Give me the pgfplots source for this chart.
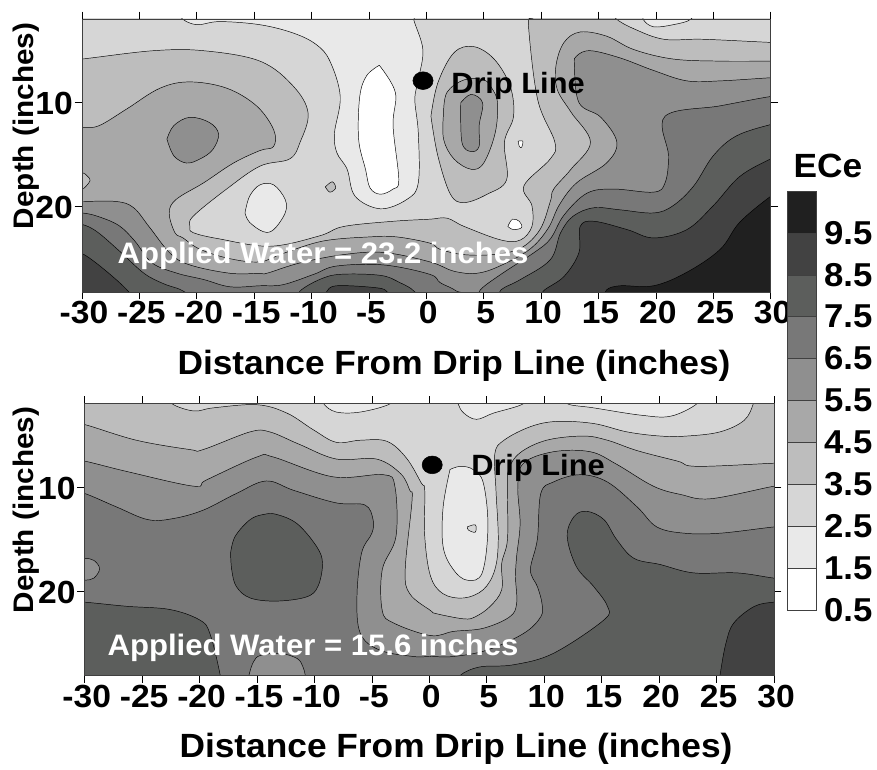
\documentclass[border=0pt]{standalone}
\usepackage{fontspec}
\setmainfont{Liberation Sans}[FakeStretch=1.05]
\usepackage{pgfplots}
\pgfplotsset{compat=1.18}
\definecolor{c1}{HTML}{FFFFFF}
\definecolor{c2}{HTML}{E9E9E9}
\definecolor{c3}{HTML}{D6D6D6}
\definecolor{c4}{HTML}{BDBDBD}
\definecolor{c5}{HTML}{A8A8A8}
\definecolor{c6}{HTML}{8F8F8F}
\definecolor{c7}{HTML}{787878}
\definecolor{c8}{HTML}{5C5E5C}
\definecolor{c9}{HTML}{424242}
\definecolor{c10}{HTML}{202020}
\newcommand{\region}[2]{\addplot[fill=#1,draw=black,line width=0.35pt,smooth,tension=0.6,mark=none] coordinates {#2};}
\newcommand{\fs}{\fontsize{24}{26}\selectfont\bfseries}
\pgfplotsset{contourpanel/.style={
  scale only axis, axis on top, y dir=reverse,
  xmin=-30,xmax=30,
  xtick={-30,-25,...,30},
  xticklabels={-30,-25,-20,-15,-10,-5,0,5,10,15,20,25,30},
  ytick={10,20}, yticklabels={10,20},
  tick align=outside, major tick length=5.5pt,
  tick style={black,line width=0.5pt},
  axis line style={draw=black!75,line width=0.7pt},
  xticklabel pos=bottom, yticklabel pos=left,
  tick label style={font=\fs},
  xticklabel style={text height=17.3pt,text depth=0pt,inner ysep=0pt,yshift=-0.9pt,xshift=1.5pt},
  yticklabel style={inner xsep=0pt,xshift=-1.2pt,yshift=-0.6pt},
}}
\begin{document}
\begin{tikzpicture}
\path (0,0) rectangle (657.75pt,570.75pt);
% ---------- upper panel
\begin{axis}[contourpanel,at={(61.5pt,351.75pt)},anchor=south west,width=516.5pt,height=204.75pt,ymin=1.95,ymax=28.2]
\addplot[fill=c4,draw=none] coordinates {(-31,1) (31,1) (31,29) (-31,29)} --cycle;
% 4.5 level
\region{c5}{(-31,12.4)(-30,12.4)(-28.5,12.2)(-26.1,10.6)(-23.2,8.6)(-20.6,8.0)(-17.4,8.6)(-14.8,10.3)(-13.3,12.6)(-13.3,14.2)(-14.5,14.6)(-16.8,15.8)(-19.4,17.7)(-21.8,19.3)(-22.4,20.6)(-21.9,22.5)(-21.2,23.0)(-19.7,24.1)(-17.1,25.0)(-14.5,25.3)(-12.5,24.5)(-9,23.3)(-4.9,22.9)(-2.6,22.9)(0.3,23.5)(1.2,24.1)(3.2,24.6)(5.8,24.6)(8.2,24.0)(9.9,22.2)(10.8,19.5)(11.1,18.3)(12.6,16.4)(14.3,13.8)(12.6,10.9)(11.4,8.7)(11.3,6.4)(12,4.2)(13.4,3.2)(15.7,3.6)(18.1,4.9)(21.5,5.8)(25.6,6.0)(30,6)(31,6)(31,29)(-31,29)(-31,12.4)}
% 2.5-3.5 level
\region{c3}{(-31,5.8)(-30,5.8)(-23.8,5.0)(-19.4,5.0)(-14.5,6.0)(-11.6,8.4)(-10.3,11.0)(-11,13.8)(-11.9,15.4)(-14.5,16.1)(-17.4,18.3)(-20.3,20.9)(-20.6,21.9)(-20.3,22.5)(-18,23.1)(-13.6,23.8)(-9.3,22.8)(-7.2,21.9)(-2.9,21.4)(0.3,21.2)(1.8,21.1)(3.3,21.9)(6.5,23.2)(8.2,23.2)(9.2,21.9)(9.2,19.9)(8.5,18)(10.8,15.4)(11.2,13.8)(9.7,9.7)(8.9,2.6)(9.2,1.9)(9.2,1)(-31,1)(-31,5.8)}
\region{c3}{(16.2,1)(16.5,1.9)(18.1,2.9)(20.7,3.9)(24.1,3.9)(30,4.2)(31,4.2)(31,1)(16.2,1)}
\region{c2}{(18.8,1)(18.9,2)(19.8,2.7)(21.5,2.5)(23,2)(23.2,1)(18.8,1)}
% 5.5 level
\region{c6}{(-31,19.5)(-30,19.5)(-27,19.5)(-25.5,20.1)(-24.1,22)(-22.3,24.5)(-20.6,25.6)(-17.1,26.4)(-14.5,26.4)(-13.9,26.4)(-11,25.4)(-7.2,24.6)(-3.7,24.4)(0.3,25.3)(2.4,26.2)(4.4,26.4)(6.4,25.7)(9,24.1)(10.6,22.1)(11.6,19.8)(13.1,17.7)(15.7,15.8)(16.6,13.8)(15.2,11.4)(13.3,10)(12.9,6.4)(13.1,5.5)(14.3,5)(16.9,5.7)(19.8,6.9)(22.7,7.9)(25.6,7.9)(30,7.6)(31,7.6)(31,29)(-31,29)(-31,19.5)}
% 6.5 level
\region{c7}{(-31,20.6)(-30,20.6)(-28.7,20.9)(-26.8,21.8)(-25.4,23.3)(-23.9,25.4)(-21.7,26.4)(-19.4,27)(-17.1,27.7)(-14.5,27.6)(-12.5,27.5)(-9.8,26.5)(-7.8,25.7)(-3.7,25.6)(0.3,26.5)(1.2,27.3)(2.6,28.1)(3,29)(-31,29)(-31,20.6)}
\region{c7}{(4.5,29)(4.7,28)(6.5,26.5)(9.4,24.4)(10.8,23.1)(12,20.8)(14,18.7)(16.3,18.3)(19.8,18.6)(20.8,17.7)(21.1,15.1)(20.8,11.3)(25.6,10.3)(30,9.4)(31,9.4)(31,29)(4.5,29)}
% 7.5 level
\region{c8}{(-31,21.7)(-30,21.7)(-28.7,22.4)(-26.7,24.3)(-24.6,26.4)(-22.9,27.4)(-21.2,28.1)(-21,29)(-31,29)(-31,21.7)}
\region{c8}{(-11.2,29)(-11,28.1)(-9.3,27)(-7.5,26.5)(-4,26.6)(-2.3,27.3)(-1.1,28.1)(-1,29)(-11.2,29)}
\region{c8}{(6.3,29)(6.5,28)(8.2,27)(10.8,25.1)(11.7,22.5)(12.8,20.9)(14.6,20.1)(16.9,20.3)(19.8,20.6)(21.5,19.9)(23.3,18)(25,15.1)(27,13.2)(30,12.1)(31,12)(31,29)(6.3,29)}
% 8.5 level
\region{c9}{(-31,24.5)(-30,24.5)(-28.1,26)(-26,28.1)(-25.8,29)(-31,29)(-31,24.5)}
\region{c9}{(-8.8,29)(-8.7,28.2)(-7.8,27.6)(-4.3,27.8)(-3.4,28.2)(-3.3,29)(-8.8,29)}
\region{c9}{(10,29)(10.2,28.1)(12,26.7)(13.3,24.4)(13.4,21.9)(14.6,21.4)(17.5,22.2)(19.8,23)(22.7,22.2)(25,19.9)(27.3,17.1)(30,15.4)(31,15)(31,29)(10,29)}
% 9.5 level
\region{c10}{(15.5,29)(15.7,28)(16.9,27.6)(19.8,27.6)(22.7,26.3)(25.6,24.1)(27.3,21.5)(30,19)(31,18.5)(31,29)(15.5,29)}
% low salinity zones
\region{c2}{(-21.5,1)(-21.3,1.9)(-20,2.5)(-18,2.2)(-14.5,2.5)(-11.6,3.3)(-9.6,4.4)(-8.4,6)(-7.5,9.4)(-8,12.9)(-7.8,14.8)(-6.9,16.4)(-6.2,19)(-4,20.2)(-1.7,19.3)(-0.7,17.7)(-0.7,12.9)(-1,9.7)(-0.7,7.8)(-0.3,4.9)(-1.1,2)(-1.1,1)(-21.5,1)}
\region{c1}{(-4.1,6.4)(-2.7,9)(-2.9,12.2)(-2.4,17.4)(-2.9,18.3)(-4,18.8)(-4.9,18.2)(-5.3,16.4)(-5.9,13.5)(-5.8,9.4)(-5.2,7.4)(-4.1,6.4)}
\region{c2}{(-15.8,20.6)(-15.4,19)(-14.5,17.9)(-13.3,17.9)(-12.3,19.3)(-12.3,20.6)(-13.3,22.2)(-14.2,22.4)(-15.4,21.5)(-15.8,20.6)}
\region{c4}{(-8.8,18.1)(-8.2,17.6)(-7.9,18.2)(-8.4,18.6)(-8.8,18.1)}
\region{c4}{(-31,16.7)(-30,16.7)(-29.5,17.1)(-29.3,17.5)(-29.8,18.2)(-30,18.2)(-31,18.2)(-31,16.7)}
\region{c6}{(-22.6,13.5)(-22,12.2)(-20.6,11.4)(-18.9,11.9)(-18.1,13)(-18.6,14.5)(-19.7,15.4)(-20.9,15.8)(-22,15.1)(-22.6,13.5)}
\region{c4}{(0.4,11.3)(1,8.1)(2.4,5.2)(4.1,4.6)(5.9,5.8)(7.3,8.4)(7.6,11.3)(6.8,13.8)(7,17.4)(5.3,18.8)(3.3,19.6)(2.1,18.8)(1,15.1)(0.4,11.3)}
\region{c5}{(1.5,11)(1.8,9)(3.3,7.8)(5,7.8)(5.7,8.6)(6.2,10)(6,12.9)(5,15.8)(3.9,16.4)(2.4,15.4)(1.5,13.5)(1.5,11)}
\region{c6}{(3,10)(3.9,9.2)(4.9,10)(4.6,12.2)(4.6,14.2)(3.9,14.7)(3.1,13.8)(3,10)}
\region{c1}{(8,13.7)(8.4,13.7)(8.3,14.3)(8.1,14.2)(8,13.7)}
\region{c1}{(7.1,21.9)(7.5,21.2)(8.1,21.4)(8.3,22)(7.6,22.2)(7.1,21.9)}
% drip line
\addplot[only marks,mark=*,mark size=7pt,mark options={black,xscale=1.08,yscale=0.95}] coordinates {(-0.29,7.88)};
\end{axis}
% ---------- lower panel
\begin{axis}[contourpanel,at={(63.5pt,64.3pt)},anchor=south west,width=517pt,height=203.7pt,ymin=2,ymax=28]
\addplot[fill=c4,draw=none] coordinates {(-31,1) (31,1) (31,29) (-31,29)} --cycle;
\region{c5}{(-31,4)(-30,4)(-25.5,5.5)(-20.8,6.4)(-19.7,6.4)(-15.6,4.7)(-13.9,4.7)(-11.3,5.9)(-8.1,7.3)(-4.6,7.3)(-2.5,8.7)(-1.7,10.3)(-1.5,11.2)(-2.1,17.9)(-1.7,20.2)(0.1,21.8)(0.6,22.1)(3,22.6)(4,22.4)(5.3,21.4)(6.3,19.8)(6.3,17.3)(6.8,15)(6.8,10.3)(6.9,8.3)(7.9,6.7)(10.2,5.5)(13.4,5.1)(15.5,5.5)(18.1,6.5)(21.6,7.5)(23.3,8)(30,7.7)(31,7.7)(31,29)(-31,29)(-31,4)}
\region{c3}{(-22.5,1)(-22.4,2)(-20.5,2.7)(-18.8,2.4)(-15,2.1)(-12.4,2.9)(-10.1,4.5)(-8.1,5.7)(-6,5.5)(-3.7,5.6)(-2,7.2)(-0.7,9.6)(-0.4,10.3)(-0.4,14.7)(0.1,18.5)(1.2,20.2)(3,20.6)(4.7,19.8)(5.7,17.9)(6,15)(5.8,10.3)(5.7,6.8)(6.5,5.5)(8.8,4.2)(11.1,3.7)(14.3,3.9)(17.2,4.7)(20.1,5.1)(22.4,5.1)(25.3,4.7)(27.4,3.6)(28.2,2)(28.3,1)(-22.5,1)}
\region{c2}{(-9.3,1)(-9.2,2)(-8.1,2.8)(-6,2.8)(-3.4,2)(-3.3,1)(-9.3,1)}
\region{c2}{(2.4,1)(2.5,2)(3,2.9)(4.1,3.5)(5.6,2.9)(8.2,2)(8.3,1)(2.4,1)}
\region{c2}{(11.9,1)(12,2)(14.3,2.4)(18.4,3.1)(21,3.2)(23.3,2)(23.4,1)(11.9,1)}
\region{c6}{(-31,7.5)(-30,7.5)(-26.3,8.5)(-20.5,9.9)(-19.4,9.3)(-15,7.1)(-13.6,7.1)(-8.4,9)(-4,8.8)(-3,9.9)(-2.9,14.7)(-4.1,17.9)(-4.1,21.8)(-3.1,23)(0.1,24.2)(2.1,23.8)(4.7,23.5)(7,22.4)(7.6,21.1)(7.5,18.6)(7.6,16.6)(7.9,13.5)(7.7,9.9)(8.2,7.7)(10.8,6.6)(14,6.6)(16.3,7.8)(19.5,9.9)(21.9,10.7)(24.5,11.1)(30,9.9)(31,9.9)(31,29)(-31,29)(-31,7.5)}
\region{c7}{(-31,10.6)(-30,10.6)(-27.2,11.9)(-24.5,13.1)(-22.3,13)(-19.7,12.2)(-16.8,10.6)(-14.2,9.4)(-11.8,10.3)(-8.1,11.5)(-5.6,11.7)(-4.9,13.1)(-5,14.4)(-5.9,16.3)(-6.3,20.5)(-6,24)(-4.3,25.6)(-1.4,26.2)(0.1,26.2)(2.1,26.2)(5,25.6)(8.2,24)(9.7,22.4)(9.8,21.1)(9.4,19.5)(8.8,17.9)(9.4,15)(9.7,10.6)(10.8,9.5)(13.1,8.8)(15.5,9.5)(18.1,11.9)(19.8,13.8)(22.2,14.4)(25.3,14.4)(30,13.8)(31,13.8)(31,29)(-31,29)(-31,10.6)}
\region{c8}{(2.5,29)(2.7,28)(4.4,27.2)(7.3,27)(10.8,25.9)(15.2,22.7)(15.5,21.4)(14.3,19.5)(12.8,17.6)(12,14.7)(12.6,12.8)(13.7,12.3)(15.2,13.1)(16.3,15)(17.8,16.8)(20.1,17.4)(23,18.2)(26.8,18.2)(30,18.7)(31,18.7)(31,29)(2.5,29)}
\region{c8}{(-31,21)(-30,21)(-26.3,21.4)(-22.6,21.7)(-20,22.7)(-19.1,24)(-18.2,28)(-18.2,29)(-31,29)(-31,21)}
\region{c8}{(-17.3,16.3)(-16.9,14.7)(-15.6,13.1)(-14.4,12.6)(-13.3,12.6)(-11.5,13.5)(-9.8,15.7)(-9.3,17.3)(-9.7,19.5)(-10.7,20.5)(-13.3,20.9)(-15.6,20.6)(-16.8,19.5)(-17.2,17.9)(-17.3,16.3)}
\region{c6}{(-31,16.8)(-30,16.8)(-29.2,17)(-28.7,17.8)(-29.2,18.7)(-30,18.9)(-31,18.9)(-31,16.8)}
\region{c6}{(-15.8,29)(-15.7,28)(-15.3,26.7)(-14.7,26.1)(-13,25.9)(-11.5,26.4)(-11,27.2)(-10.8,28)(-10.7,29)(-15.8,29)}
\region{c9}{(25.2,29)(25.3,28)(25.8,25)(26.5,23)(28.3,21.4)(30,21)(31,21)(31,29)(25.2,29)}
\region{c2}{(1.8,8.3)(2.7,8)(3.8,8.3)(4.7,9.6)(5.1,13.8)(4.6,18.2)(3.3,18.9)(2.1,17.9)(1.2,15.7)(1.2,11.9)(1.8,8.3)}
\region{c3}{(3.3,13.8)(4,13.6)(4,14.3)(3.4,14.1)(3.3,13.8)}
\addplot[only marks,mark=*,mark size=7pt,mark options={black,xscale=1.08,yscale=0.95}] coordinates {(0.25,7.86)};
\end{axis}
% ---------- colour key
\begin{axis}[scale only axis,at={(590.25pt,113.25pt)},anchor=south west,width=21.75pt,height=314.25pt,
  xmin=0,xmax=1,ymin=0.5,ymax=10.5,xtick=\empty,
  ytick={0.5,1.5,...,9.5},yticklabels={0.5,1.5,2.5,3.5,4.5,5.5,6.5,7.5,8.5,9.5},
  yticklabel pos=right,ytick pos=right,major tick length=0pt,
  tick label style={font=\fontsize{24.8}{26}\selectfont\bfseries},
  yticklabel style={xshift=2.5pt},
  axis line style={draw=black!75,line width=0.6pt},axis on top]
\addplot[fill=c1,draw=black!75] coordinates {(0,0.5)(1,0.5)(1,1.5)(0,1.5)} --cycle;
\addplot[fill=c2,draw=black!75] coordinates {(0,1.5)(1,1.5)(1,2.5)(0,2.5)} --cycle;
\addplot[fill=c3,draw=black!75] coordinates {(0,2.5)(1,2.5)(1,3.5)(0,3.5)} --cycle;
\addplot[fill=c4,draw=black!75] coordinates {(0,3.5)(1,3.5)(1,4.5)(0,4.5)} --cycle;
\addplot[fill=c5,draw=black!75] coordinates {(0,4.5)(1,4.5)(1,5.5)(0,5.5)} --cycle;
\addplot[fill=c6,draw=black!75] coordinates {(0,5.5)(1,5.5)(1,6.5)(0,6.5)} --cycle;
\addplot[fill=c7,draw=black!75] coordinates {(0,6.5)(1,6.5)(1,7.5)(0,7.5)} --cycle;
\addplot[fill=c8,draw=black!75] coordinates {(0,7.5)(1,7.5)(1,8.5)(0,8.5)} --cycle;
\addplot[fill=c9,draw=black!75] coordinates {(0,8.5)(1,8.5)(1,9.5)(0,9.5)} --cycle;
\addplot[fill=c10,draw=black!75] coordinates {(0,9.5)(1,9.5)(1,10.5)(0,10.5)} --cycle;
\end{axis}
% ---------- text
\node[font=\fontsize{22}{24}\selectfont\bfseries] at (518*0.75pt,{(761-86)*0.75pt}) {Drip Line};
\node[font=\fontsize{22}{24}\selectfont\bfseries] at (538*0.75pt,{(761-468)*0.75pt}) {Drip Line};
\node[font=\fontsize{22.2}{24}\selectfont\bfseries,text=white] at (323*0.75pt,{(761-256)*0.75pt}) {Applied Water = 23.2 inches};
\node[font=\fontsize{22.2}{24}\selectfont\bfseries,text=white] at (313*0.75pt,{(761-648)*0.75pt}) {Applied Water = 15.6 inches};
\node[font=\fontsize{25.2}{27}\selectfont\bfseries] at (454*0.75pt,{(761-366)*0.75pt}) {Distance From Drip Line (inches)};
\node[font=\fontsize{25.2}{27}\selectfont\bfseries] at (456*0.75pt,{(761-749)*0.75pt}) {Distance From Drip Line (inches)};
\node[font=\fontsize{21.2}{23}\selectfont\bfseries,rotate=90] at (26*0.75pt,{(761-126)*0.75pt}) {Depth (inches)};
\node[font=\fontsize{21.2}{23}\selectfont\bfseries,rotate=90] at (26*0.75pt,{(761-510)*0.75pt}) {Depth (inches)};
\node[font=\fontsize{25.2}{27}\selectfont\bfseries] at (828*0.75pt,{(761-166)*0.75pt}) {ECe};
\end{tikzpicture}
\end{document}
